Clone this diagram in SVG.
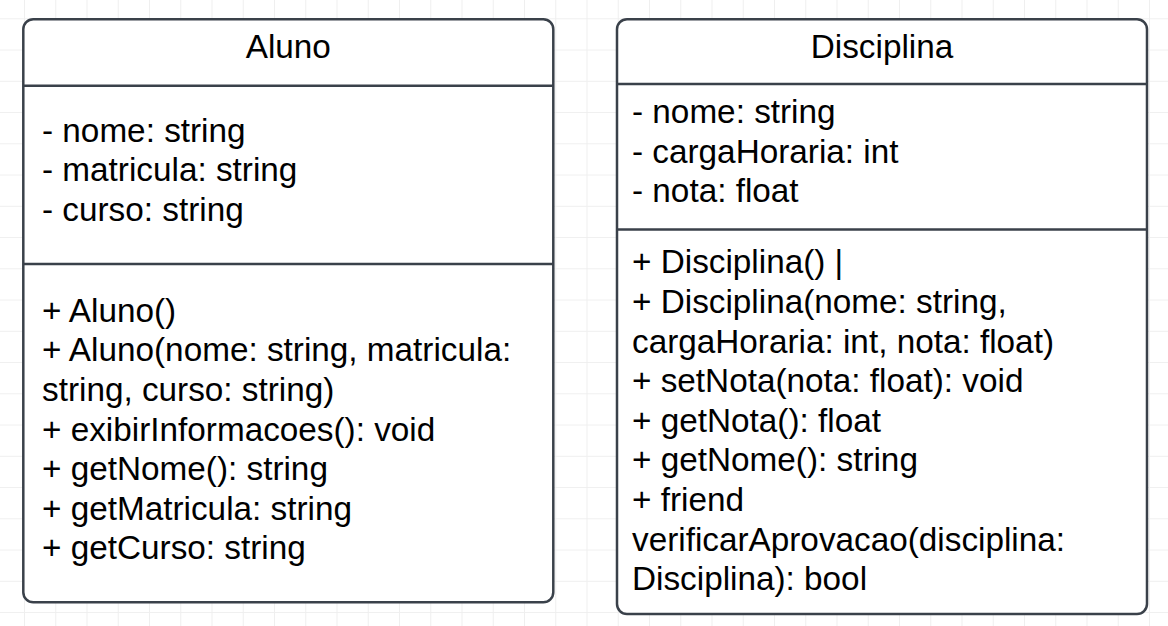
<svg xmlns="http://www.w3.org/2000/svg" width="1168" height="626" viewBox="0 0 1168 626">
  <defs>
    <pattern id="grid" x="24" y="18.3" width="31.25" height="31.25" patternUnits="userSpaceOnUse">
      <path d="M0.5 0 V31.25 M0 0.5 H31.25" fill="none" stroke="#efefef" stroke-width="1"/>
    </pattern>
  </defs>
  <style>
    .box { fill: #ffffff; stroke: #3a414a; stroke-width: 2.5; }
    .div { stroke: #3a414a; stroke-width: 2.5; fill: none; }
    .t { font-family: "Liberation Sans", Arial, sans-serif; font-size: 33.3px; fill: #000000; }
    .title { text-anchor: middle; }
  </style>
  <rect x="0" y="0" width="1168" height="626" fill="#ffffff"/>
  <rect x="0" y="0" width="1168" height="626" fill="url(#grid)"/>

  <g id="connectors"></g>

  <g id="aluno">
    <rect class="box" x="23.3" y="19.3" width="530" height="583" rx="10" ry="10"/>
    <line class="div" x1="23.3" y1="85.7" x2="553.3" y2="85.7"/>
    <line class="div" x1="23.3" y1="264" x2="553.3" y2="264"/>
    <text class="t title" x="288.3" y="58.3">Aluno</text>
    <text class="t" x="42" y="141.7">- nome: string</text>
    <text class="t" x="42" y="181.3">- matricula: string</text>
    <text class="t" x="42" y="220.9">- curso: string</text>
    <text class="t" x="42" y="321.7">+ Aluno()</text>
    <text class="t" x="42" y="361.3">+ Aluno(nome: string, matricula:</text>
    <text class="t" x="42" y="400.9">string, curso: string)</text>
    <text class="t" x="42" y="440.5">+ exibirInformacoes(): void</text>
    <text class="t" x="42" y="480.1">+ getNome(): string</text>
    <text class="t" x="42" y="519.7">+ getMatricula: string</text>
    <text class="t" x="42" y="559.3">+ getCurso: string</text>
  </g>

  <g id="disciplina">
    <rect class="box" x="617" y="19.3" width="530" height="594.7" rx="10" ry="10"/>
    <line class="div" x1="617" y1="84" x2="1147" y2="84"/>
    <line class="div" x1="617" y1="229.5" x2="1147" y2="229.5"/>
    <text class="t title" x="882" y="58.3">Disciplina</text>
    <text class="t" x="632" y="123.3">- nome: string</text>
    <text class="t" x="632" y="162.6">- cargaHoraria: int</text>
    <text class="t" x="632" y="202">- nota: float</text>
    <text class="t" x="632" y="273.3">+ Disciplina() |</text>
    <text class="t" x="632" y="312.9">+ Disciplina(nome: string,</text>
    <text class="t" x="632" y="352.5">cargaHoraria: int, nota: float)</text>
    <text class="t" x="632" y="392.1">+ setNota(nota: float): void</text>
    <text class="t" x="632" y="431.7">+ getNota(): float</text>
    <text class="t" x="632" y="471.3">+ getNome(): string</text>
    <text class="t" x="632" y="510.9">+ friend</text>
    <text class="t" x="632" y="550.5">verificarAprovacao(disciplina:</text>
    <text class="t" x="632" y="590.1">Disciplina): bool</text>
  </g>
</svg>
